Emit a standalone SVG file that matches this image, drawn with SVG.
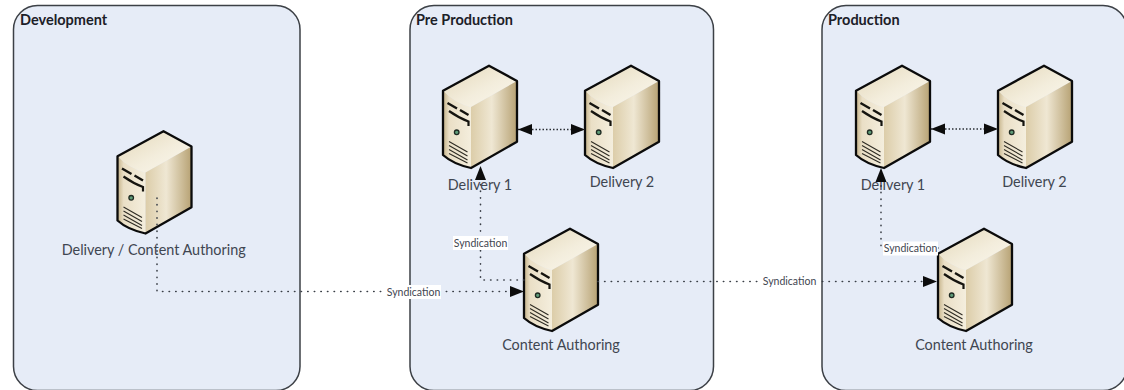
<svg xmlns="http://www.w3.org/2000/svg" xmlns:xlink="http://www.w3.org/1999/xlink" width="1124" height="390" viewBox="0 0 1124 390">
<style>
text{font-family:"Lato","Liberation Sans",sans-serif}
.panel{fill:#e6ecf7;stroke:#3c4046;stroke-width:1.5}
.title{font-size:14.5px;font-weight:700;fill:#1c2028}
.label{font-size:14.4px;fill:#3f4651;text-anchor:middle}
.syn{font-size:10.5px;fill:#3f4651;text-anchor:middle}
.lbg{fill:#fff}
.dot{fill:none;stroke:#3a3f47;stroke-width:1.6;stroke-linecap:round;stroke-dasharray:0.4 6.2}
.dot2{fill:none;stroke:#2a2e34;stroke-width:1.5;stroke-dasharray:1.5 2}
</style>
<defs>
<linearGradient id="gTop" x1="0" y1="0" x2="1" y2="1"><stop offset="0" stop-color="#e3d7b8"/><stop offset="0.55" stop-color="#f3eddc"/><stop offset="1" stop-color="#fbf8ef"/></linearGradient>
<linearGradient id="gFront" x1="0" y1="0" x2="1" y2="0"><stop offset="0" stop-color="#c4b288"/><stop offset="0.22" stop-color="#eadfc6"/><stop offset="1" stop-color="#f4eedd"/></linearGradient>
<linearGradient id="gSide" x1="0" y1="0" x2="1" y2="0"><stop offset="0" stop-color="#dccda9"/><stop offset="0.45" stop-color="#efe7d3"/><stop offset="1" stop-color="#b7a274"/></linearGradient>
<marker id="ah" markerUnits="userSpaceOnUse" markerWidth="15" markerHeight="12" refX="14" refY="6" orient="auto-start-reverse"><path d="M0,0.5 L14,6 L0,11.5 Z" fill="#0c0c0c"/></marker>
<symbol id="server" viewBox="-2 -2 78 108" width="78" height="108" overflow="visible">
<path d="M46,0.7 L74,16 L28,42 Q12,38 0,25.7 Z" fill="url(#gTop)"/>
<path d="M0,25.7 Q12,38 28,42 V103 Q10,99 0,90 Z" fill="url(#gFront)"/>
<path d="M28,42 L74,16 V76.7 L28,103 Z" fill="url(#gSide)"/>
<path d="M46,0.7 L74,16 V76.7 L28,103 Q10,99 0,90 V25.7 Z" fill="none" stroke="#0b0b0b" stroke-width="2.3" stroke-linejoin="round"/>
<path d="M4.5,38 L14,43.5 M17,45 L25.5,50" fill="none" stroke="#15140f" stroke-width="2.4"/>
<path d="M6,46 Q16,53 25.5,56.5 V61" fill="none" stroke="#15140f" stroke-width="2.2"/>
<circle cx="13.7" cy="67.3" r="2.3" fill="#5f9c78" stroke="#1f2a22" stroke-width="1.3"/>
<path d="M6,76.5 L24.5,87 M6,80.5 L24.5,91 M6,84.5 L24.5,95 M6,88.5 L24.5,98" fill="none" stroke="#2f2c24" stroke-width="1.1"/>
</symbol>
</defs>
<rect width="1124" height="390" fill="#fff"/>
<g id="panel-development"><rect class="panel" x="13.5" y="5.5" width="286.5" height="385" rx="24"/><text class="title" x="20" y="25">Development</text></g>
<g id="panel-preproduction"><rect class="panel" x="410" y="5.5" width="303.5" height="385" rx="24"/><text class="title" x="416" y="25">Pre Production</text></g>
<g id="panel-production"><rect class="panel" x="822" y="5.5" width="305" height="385" rx="24"/><text class="title" x="828" y="25">Production</text></g>

<g id="node-dev"><use xlink:href="#server" href="#server" x="115.5" y="128.5"/><text class="label" x="153.7" y="255">Delivery / Content Authoring</text></g>
<g id="node-pre-delivery1"><use xlink:href="#server" href="#server" x="441" y="63"/><text class="label" x="480" y="190">Delivery 1</text></g>
<g id="node-pre-delivery2"><use xlink:href="#server" href="#server" x="583" y="63"/><text class="label" x="622" y="187">Delivery 2</text></g>
<g id="node-pre-authoring"><use xlink:href="#server" href="#server" x="522" y="226"/><text class="label" x="561" y="350">Content Authoring</text></g>
<g id="node-prod-delivery1"><use xlink:href="#server" href="#server" x="854" y="63"/><text class="label" x="893" y="190">Delivery 1</text></g>
<g id="node-prod-delivery2"><use xlink:href="#server" href="#server" x="996" y="63"/><text class="label" x="1034.5" y="187">Delivery 2</text></g>
<g id="node-prod-authoring"><use xlink:href="#server" href="#server" x="936" y="226"/><text class="label" x="974" y="350">Content Authoring</text></g>

<g id="connectors">
<path class="dot" d="M157,198 V291.5 H510"/><path d="M510,291.5 H524" fill="none" marker-end="url(#ah)"/>
<path class="dot" d="M524,280 H480.5 V173"/><path d="M480.5,179 V166" fill="none" marker-end="url(#ah)"/>
<path class="dot" d="M598,281.5 H923"/><path d="M923,281.5 H937" fill="none" marker-end="url(#ah)"/>
<path class="dot" d="M938,248 H881 V178"/><path d="M881,182 V168" fill="none" marker-end="url(#ah)"/>
<path class="dot2" d="M518,129.5 H585" marker-start="url(#ah)" marker-end="url(#ah)"/>
<path class="dot2" d="M931,129 H998" marker-start="url(#ah)" marker-end="url(#ah)"/>
<rect class="lbg" x="385" y="285" width="56" height="14"/><text class="syn" x="413.5" y="296">Syndication</text>
<rect class="lbg" x="453" y="236" width="55" height="14"/><text class="syn" x="480.5" y="247">Syndication</text>
<rect class="lbg" x="761" y="274.5" width="57" height="14"/><text class="syn" x="789.5" y="285">Syndication</text>
<rect class="lbg" x="883" y="241.5" width="55" height="14"/><text class="syn" x="910.5" y="252">Syndication</text>
</g>
</svg>
